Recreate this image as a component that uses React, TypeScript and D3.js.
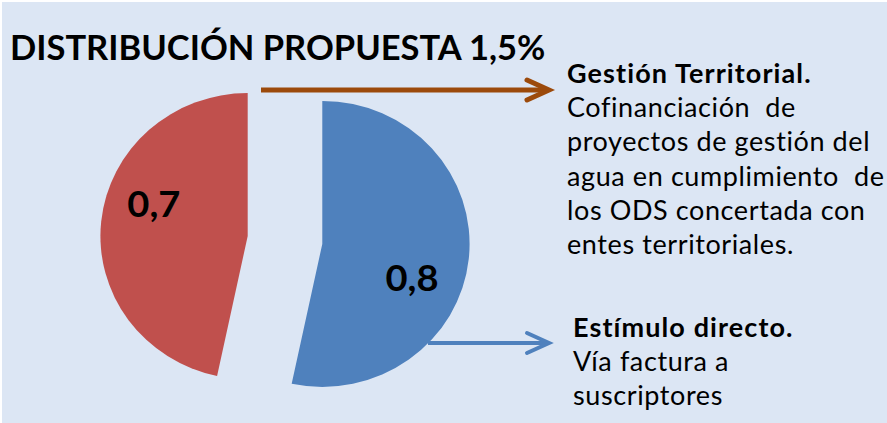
import { useEffect, useRef } from 'react';
import * as d3 from 'd3';

const title = 'DISTRIBUCIÓN PROPUESTA 1,5%';

const sliceLabels = ['0,8', '0,7'];
const sliceValues = [0.8, 0.7];
const sliceColors = ['#4f81bd', '#c0504d'];

const territorialHead = 'Gestión Territorial.';
const territorialLines = [
  'Cofinanciación  de',
  'proyectos de gestión del',
  'agua en cumplimiento  de',
  'los ODS concertada con',
  'entes territoriales.',
];

const directHead = 'Estímulo directo.';
const directLines = ['Vía factura a', 'suscriptores'];

export default function App() {
  const svgRef = useRef<SVGSVGElement>(null);

  useEffect(() => {
    const width = 887;
    const height = 423;
    const font = 'Lato, "Open Sans", sans-serif';

    const svg = d3.select(svgRef.current);
    svg.selectAll('*').remove();

    svg.append('rect').attr('width', width).attr('height', height).attr('fill', '#ffffff');
    svg.append('rect')
      .attr('x', 2).attr('y', 2)
      .attr('width', width - 2).attr('height', height - 2)
      .attr('fill', '#dce6f4');

    // title
    svg.append('text')
      .attr('x', 10).attr('y', 60)
      .attr('font-family', font)
      .attr('font-weight', 'bold')
      .attr('font-size', 34.5)
      .attr('fill', '#000')
      .text(title);

    // exploded pie
    const cx = 285;
    const cy = 240;
    const radius = 143;
    const explode = 37.5;

    const data = sliceValues.map((v, i) => ({ value: v, label: sliceLabels[i], color: sliceColors[i] }));
    const pie = d3.pie<any>().sort(null).value(d => d.value);
    const arc = d3.arc<any>().innerRadius(0).outerRadius(radius);
    const labelShift = 0.25;
    const labelArc = d3.arc<any>().innerRadius(95).outerRadius(95);

    pie(data).forEach(p => {
      const mid = (p.startAngle + p.endAngle) / 2;
      const ox = cx + Math.sin(mid) * explode;
      const oy = cy - Math.cos(mid) * explode;
      const g = svg.append('g').attr('transform', `translate(${ox},${oy}) scale(1.03,1)`);
      g.append('path').attr('d', arc(p)).attr('fill', p.data.color);

      const [lx, ly] = labelArc.centroid({ ...p, startAngle: p.startAngle + labelShift, endAngle: p.endAngle + labelShift });
      g.append('text')
        .attr('x', lx - 2).attr('y', ly)
        .attr('text-anchor', 'middle')
        .attr('dominant-baseline', 'central')
        .attr('font-family', font)
        .attr('font-weight', 'bold')
        .attr('font-size', 37)
        .attr('fill', '#000')
        .text(p.data.label);
    });

    // arrows
    const drawArrow = (x1: number, x2: number, y: number, color: string, w: number) => {
      svg.append('line')
        .attr('x1', x1).attr('x2', x2 - 3).attr('y1', y).attr('y2', y)
        .attr('stroke', color).attr('stroke-width', w);
      svg.append('path')
        .attr('d', d3.line()([[x2 - 22, y - 10], [x2, y], [x2 - 22, y + 10]]))
        .attr('fill', 'none')
        .attr('stroke', color)
        .attr('stroke-width', w)
        .attr('stroke-linecap', 'round')
        .attr('stroke-linejoin', 'miter');
    };
    drawArrow(261, 549, 90, '#9c4a0b', 5);
    drawArrow(428, 549, 343, '#4f81bd', 4);

    const block = (x: number, y0: number, head: string, lines: string[]) => {
      const t = svg.append('text')
        .attr('font-family', font)
        .attr('font-size', 27)
        .attr('fill', '#000')
        .style('white-space', 'pre');
      t.append('tspan').attr('x', x).attr('y', y0)
        .attr('font-weight', 'bold')
        .attr('letter-spacing', 1.1)
        .text(head);
      lines.forEach((l, i) => {
        t.append('tspan')
          .attr('x', x).attr('y', y0 + (i + 1) * 34.2)
          .attr('letter-spacing', 0.6)
          .text(l);
      });
    };
    block(567, 83, territorialHead, territorialLines);
    block(573, 337, directHead, directLines);
  }, []);

  return (
    <div style={{ position: 'absolute', left: 0, top: 0 }}>
      <svg ref={svgRef} width={887} height={423} style={{ display: 'block' }} />
    </div>
  );
}
